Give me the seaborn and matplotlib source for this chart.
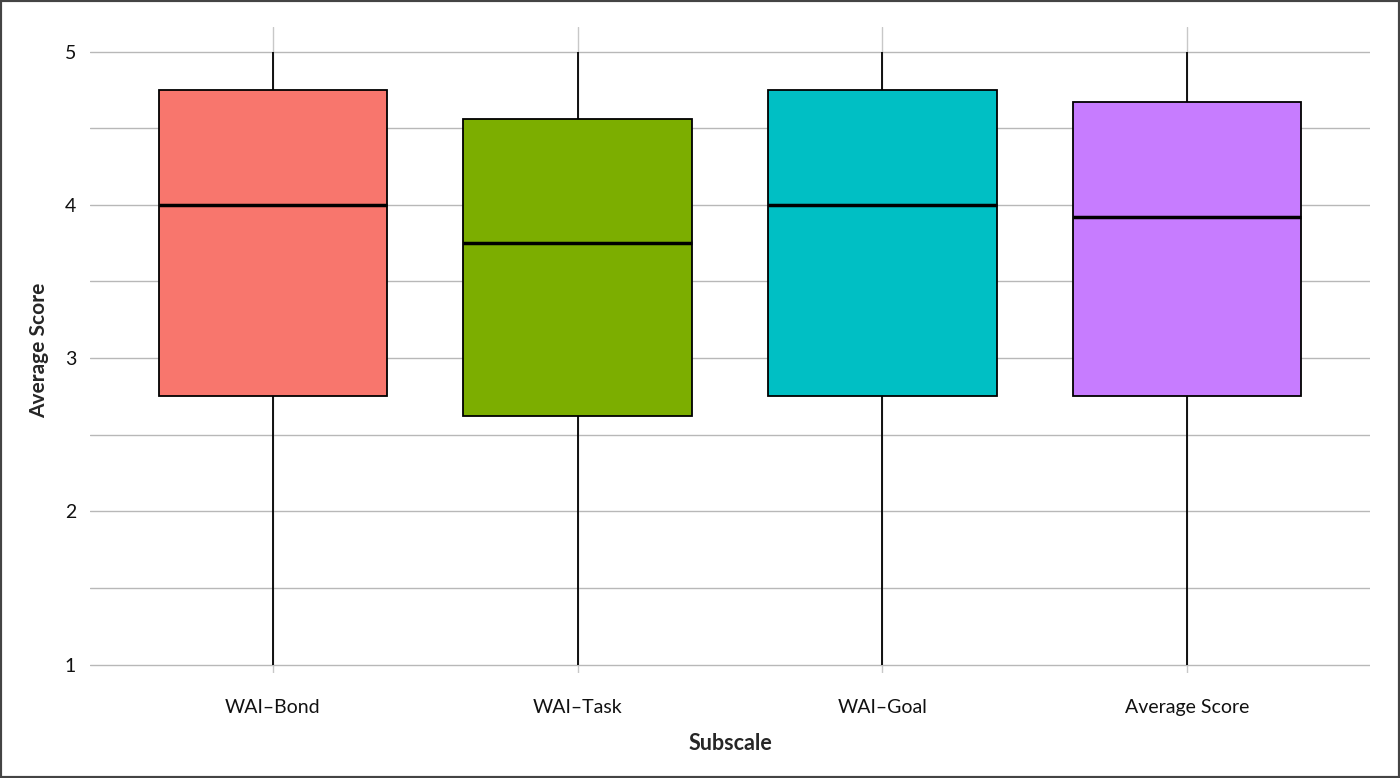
import pandas as pd
import matplotlib.pyplot as plt
import seaborn as sns
from matplotlib.patches import Rectangle

# values: min, Q1, median, Q3, max per subscale
subscales = ["WAI–Bond", "WAI–Task", "WAI–Goal", "Average Score"]
bond = [1.0, 2.75, 4.0, 4.75, 5.0]
task = [1.0, 2.625, 3.75, 4.5625, 5.0]
goal = [1.0, 2.75, 4.0, 4.75, 5.0]
average = [1.0, 2.75, 3.92, 4.67, 5.0]
colors = ["#F8766D", "#7CAE00", "#00BFC4", "#C77CFF"]

rows = []
for name, vals in zip(subscales, [bond, task, goal, average]):
    for v in vals:
        rows.append({"Subscale": name, "Score": v})
df = pd.DataFrame(rows)

sns.set_theme(style="white")
plt.rcParams['font.family'] = ['Lato', 'DejaVu Sans']

fig = plt.figure(figsize=(14, 7.78), dpi=100)
ax = fig.add_axes([0.0643, 0.135, 0.9143, 0.8303])

sns.boxplot(data=df, x="Subscale", y="Score", hue="Subscale", palette=colors,
            order=subscales, hue_order=subscales, legend=False, width=0.75,
            linecolor="black", linewidth=1.3, showcaps=False, showfliers=False,
            medianprops={"linewidth": 2.5, "color": "black"},
            saturation=1, ax=ax)

ax.set_xlim(-0.6, 3.6)
ax.set_ylim(0.945, 5.16)
ax.set_yticks([1, 2, 3, 4, 5])
ax.set_yticks([1.5, 2.5, 3.5, 4.5], minor=True)
ax.grid(True, which="both", axis="y", color="#b8b8b8", linewidth=1)
ax.grid(True, which="major", axis="x", color="#c8c8c8", linewidth=1)
ax.set_axisbelow(True)
for s in ax.spines.values():
    s.set_visible(False)
ax.tick_params(axis="both", which="both", length=0, labelsize=14, colors="#111111")
ax.tick_params(axis="y", pad=10)
ax.tick_params(axis="x", pad=19)
ax.set_xlabel("Subscale", fontsize=15.5, fontweight="bold", labelpad=12)
ax.set_ylabel("Average Score", fontsize=15, fontweight="bold", labelpad=11)

fig.patches.append(Rectangle((0, 0), 1, 1, transform=fig.transFigure, fill=False,
                             edgecolor="#444444", linewidth=3, zorder=10))

fig.savefig("out.png", dpi=100, facecolor="white")
